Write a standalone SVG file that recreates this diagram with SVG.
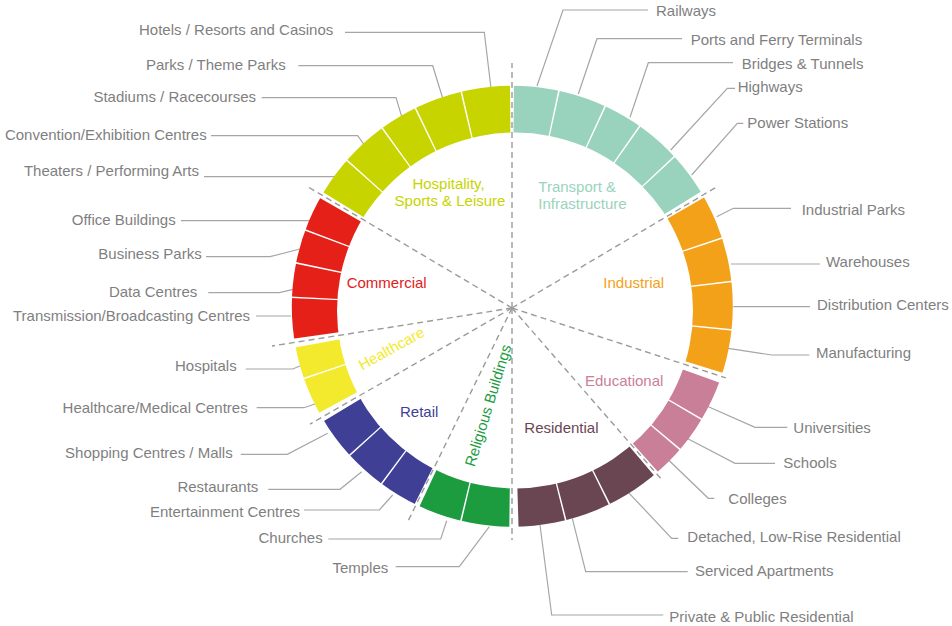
<svg xmlns="http://www.w3.org/2000/svg" width="952" height="626" viewBox="0 0 952 626">
<style>
text{font-family:"Liberation Sans",Arial,Helvetica,sans-serif;font-size:15px}
.lbl{fill:#7f7f7f}
.r{text-anchor:end}
.m{text-anchor:middle}
.seg{fill:none;stroke-width:90}
.lead{fill:none;stroke:#a6a6a6;stroke-width:1.2}
.dash{fill:none;stroke:#9b9b9b;stroke-width:1.4;stroke-dasharray:6 4}
.tr{stroke:#9AD3BD}.tt{fill:#9AD3BD}
.ho{stroke:#C8D400}.ht{fill:#C8D400}
.co{stroke:#E42019}.ct{fill:#E42019}
.hc{stroke:#F3E92D}.hct{fill:#F3E92D}
.re{stroke:#3E3F95}.ret{fill:#3E3F95}
.rb{stroke:#1C9C3F}.rbt{fill:#1C9C3F}
.rs{stroke:#6A4653}.rst{fill:#6A4653}
.ed{stroke:#CA7F98}.edt{fill:#CA7F98}
.in{stroke:#F4A11A}.int{fill:#F4A11A}
</style>
<defs>
<clipPath id="ring"><path clip-rule="evenodd" d="M291.8,306.2 A220.5,220.5 0 1,0 732.8,306.2 A220.5,220.5 0 1,0 291.8,306.2 Z M337,310.5 A178,178 0 1,0 693,310.5 A178,178 0 1,0 337,310.5 Z"/></clipPath>
</defs>
<rect width="952" height="626" fill="#ffffff"/>
<g id="dividers">
<line class="dash" x1="512" y1="308" x2="757" y2="308" transform="rotate(-90 512 308)"/>
<line class="dash" x1="512" y1="308" x2="744" y2="308" transform="rotate(90 512 308)"/>
<line class="dash" x1="512" y1="308" x2="748" y2="308" transform="rotate(-30.6 512 308)"/>
<line class="dash" x1="512" y1="308" x2="737" y2="308" transform="rotate(18.1 512 308)"/>
<line class="dash" x1="512" y1="308" x2="738" y2="308" transform="rotate(48.9 512 308)"/>
<line class="dash" x1="512" y1="308" x2="752" y2="308" transform="rotate(116 512 308)"/>
<line class="dash" x1="512" y1="308" x2="745" y2="308" transform="rotate(150.1 512 308)"/>
<line class="dash" x1="512" y1="308" x2="755" y2="308" transform="rotate(171 512 308)"/>
<line class="dash" x1="512" y1="308" x2="752" y2="308" transform="rotate(-149.3 512 308)"/>
</g>
<g id="connectors">
<polyline class="lead" points="648,10 563,10 537,86"/>
<polyline class="lead" points="682,38.7 597,38.7 578.3,94"/>
<polyline class="lead" points="733,62.7 648.3,62.7 630,117.3"/>
<polyline class="lead" points="735,88.3 727.3,88.3 670.7,150"/>
<polyline class="lead" points="743.3,123.3 737.3,123.3 691.7,175"/>
<polyline class="lead" points="791,208.3 733.3,208.3 716.7,216.7"/>
<polyline class="lead" points="820,264 731,264"/>
<polyline class="lead" points="810,306.7 733.3,306.7"/>
<polyline class="lead" points="809.3,355 771.7,355 728.3,348.3"/>
<polyline class="lead" points="787.3,427.3 755,427.3 706.7,406"/>
<polyline class="lead" points="775,463.3 735,463.3 685,437.3"/>
<polyline class="lead" points="714.3,498.3 708.3,498.3 666.7,458.3"/>
<polyline class="lead" points="678.3,538.3 671.7,538.3 628.3,492.3"/>
<polyline class="lead" points="687.7,571.7 585.7,571.7 572.3,518.3"/>
<polyline class="lead" points="663.3,615 551.7,615 540,525"/>
<polyline class="lead" points="345,32.3 484.3,32.3 491,88.3"/>
<polyline class="lead" points="298.3,65.7 432.7,65.7 442.7,98.3"/>
<polyline class="lead" points="261.7,97.7 396,97.7 401.7,116.7"/>
<polyline class="lead" points="211,135.7 357.7,135.7 364.3,145"/>
<polyline class="lead" points="204,176.7 338.3,176.7"/>
<polyline class="lead" points="181,220.7 311.7,220.7"/>
<polyline class="lead" points="206,256.7 270,256.7 300,249"/>
<polyline class="lead" points="208.3,292.7 279.3,292.7 293.3,289.3"/>
<polyline class="lead" points="256,316 291,316"/>
<polyline class="lead" points="245.7,369 292.7,369 300,366"/>
<polyline class="lead" points="256.7,407.7 304,407.7 315,404"/>
<polyline class="lead" points="240.7,454.3 287.3,454.3 327.7,433.3"/>
<polyline class="lead" points="268.3,489.3 340,489.3 361.7,471.7"/>
<polyline class="lead" points="304,510 379.3,510 392.7,495"/>
<polyline class="lead" points="328.3,539 440.7,539 446.7,520.7"/>
<polyline class="lead" points="395.7,566.7 459.3,566.7 489.3,526.7"/>
</g>

<g id="cat-transport">
<text class="tt" x="538.3" y="192">Transport &amp;</text>
<text class="tt" x="538.3" y="209.3">Infrastructure</text>
<g id="n-railways"><g clip-path="url(#ring)"><circle class="seg tr" cx="512" cy="308" r="200" stroke-dasharray="40.14 2000" transform="rotate(-89.5 512 308)"/></g><text class="lbl" x="656" y="16">Railways</text></g>
<g id="n-ports"><g clip-path="url(#ring)"><circle class="seg tr" cx="512" cy="308" r="200" stroke-dasharray="42.59 2000" transform="rotate(-77.6 512 308)"/></g><text class="lbl" x="690.7" y="45">Ports and Ferry Terminals</text></g>
<g id="n-bridges"><g clip-path="url(#ring)"><circle class="seg tr" cx="512" cy="308" r="200" stroke-dasharray="34.56 2000" transform="rotate(-65 512 308)"/></g><text class="lbl" x="741.7" y="69">Bridges &amp; Tunnels</text></g>
<g id="n-highways"><g clip-path="url(#ring)"><circle class="seg tr" cx="512" cy="308" r="200" stroke-dasharray="40.14 2000" transform="rotate(-54.7 512 308)"/></g><text class="lbl" x="737.7" y="92.3">Highways</text></g>
<g id="n-power"><g clip-path="url(#ring)"><circle class="seg tr" cx="512" cy="308" r="200" stroke-dasharray="39.10 2000" transform="rotate(-42.8 512 308)"/></g><text class="lbl" x="747.3" y="128.3">Power Stations</text></g>
</g>

<g id="cat-industrial">
<text class="int" x="603.3" y="288.3">Industrial</text>
<g id="n-indparks"><g clip-path="url(#ring)"><circle class="seg in" cx="512" cy="308" r="200" stroke-dasharray="39.44 2000" transform="rotate(-29.9 512 308)"/></g><text class="lbl" x="801.7" y="215">Industrial Parks</text></g>
<g id="n-warehouses"><g clip-path="url(#ring)"><circle class="seg in" cx="512" cy="308" r="200" stroke-dasharray="38.75 2000" transform="rotate(-18.2 512 308)"/></g><text class="lbl" x="826" y="267">Warehouses</text></g>
<g id="n-distribution"><g clip-path="url(#ring)"><circle class="seg in" cx="512" cy="308" r="200" stroke-dasharray="42.59 2000" transform="rotate(-6.7 512 308)"/></g><text class="lbl" x="817" y="310">Distribution Centers</text></g>
<g id="n-manufacturing"><g clip-path="url(#ring)"><circle class="seg in" cx="512" cy="308" r="200" stroke-dasharray="39.10 2000" transform="rotate(5.9 512 308)"/></g><text class="lbl" x="816" y="358.3">Manufacturing</text></g>
</g>

<g id="cat-educational">
<text class="edt" x="585" y="385.7">Educational</text>
<g id="n-universities"><g clip-path="url(#ring)"><circle class="seg ed" cx="512" cy="308" r="200" stroke-dasharray="36.30 2000" transform="rotate(19.8 512 308)"/></g><text class="lbl" x="793.3" y="433.3">Universities</text></g>
<g id="n-schools"><g clip-path="url(#ring)"><circle class="seg ed" cx="512" cy="308" r="200" stroke-dasharray="32.46 2000" transform="rotate(30.6 512 308)"/></g><text class="lbl" x="783.3" y="468.3">Schools</text></g>
<g id="n-colleges"><g clip-path="url(#ring)"><circle class="seg ed" cx="512" cy="308" r="200" stroke-dasharray="27.93 2000" transform="rotate(40.3 512 308)"/></g><text class="lbl" x="728.3" y="504">Colleges</text></g>
</g>

<g id="cat-residential">
<text class="rst" x="524.3" y="433.3">Residential</text>
<g id="n-detached"><g clip-path="url(#ring)"><circle class="seg rs" cx="512" cy="308" r="200" stroke-dasharray="47.82 2000" transform="rotate(49.7 512 308)"/></g><text class="lbl" x="687.3" y="541.7">Detached, Low-Rise Residential</text></g>
<g id="n-serviced"><g clip-path="url(#ring)"><circle class="seg rs" cx="512" cy="308" r="200" stroke-dasharray="41.19 2000" transform="rotate(63.8 512 308)"/></g><text class="lbl" x="695" y="576">Serviced Apartments</text></g>
<g id="n-private"><g clip-path="url(#ring)"><circle class="seg rs" cx="512" cy="308" r="200" stroke-dasharray="42.94 2000" transform="rotate(76 512 308)"/></g><text class="lbl" x="669.3" y="621.7">Private &amp; Public Residential</text></g>
</g>

<g id="cat-religious">
<text class="rbt m" x="493" y="407" transform="rotate(-73 493 407)">Religious Buildings</text>
<g id="n-temples"><g clip-path="url(#ring)"><circle class="seg rb" cx="512" cy="308" r="200" stroke-dasharray="43.98 2000" transform="rotate(90.7 512 308)"/></g><text class="lbl r" x="388.3" y="573.3">Temples</text></g>
<g id="n-churches"><g clip-path="url(#ring)"><circle class="seg rb" cx="512" cy="308" r="200" stroke-dasharray="39.44 2000" transform="rotate(103.7 512 308)"/></g><text class="lbl r" x="322.7" y="543.3">Churches</text></g>
</g>

<g id="cat-retail">
<text class="ret" x="400" y="416.7">Retail</text>
<g id="n-entertainment"><g clip-path="url(#ring)"><circle class="seg re" cx="512" cy="308" r="200" stroke-dasharray="34.91 2000" transform="rotate(116.4 512 308)"/></g><text class="lbl r" x="300" y="517.3">Entertainment Centres</text></g>
<g id="n-restaurants"><g clip-path="url(#ring)"><circle class="seg re" cx="512" cy="308" r="200" stroke-dasharray="37.70 2000" transform="rotate(126.8 512 308)"/></g><text class="lbl r" x="258.3" y="492.3">Restaurants</text></g>
<g id="n-shopping"><g clip-path="url(#ring)"><circle class="seg re" cx="512" cy="308" r="200" stroke-dasharray="38.40 2000" transform="rotate(138 512 308)"/></g><text class="lbl r" x="232.7" y="458.3">Shopping Centres / Malls</text></g>
</g>

<g id="cat-healthcare">
<text class="hct m" x="394" y="353" transform="rotate(-29 394 353)">Healthcare</text>
<g id="n-medical"><g clip-path="url(#ring)"><circle class="seg hc" cx="512" cy="308" r="200" stroke-dasharray="33.51 2000" transform="rotate(151.5 512 308)"/></g><text class="lbl r" x="247.7" y="412.7">Healthcare/Medical Centres</text></g>
<g id="n-hospitals"><g clip-path="url(#ring)"><circle class="seg hc" cx="512" cy="308" r="200" stroke-dasharray="28.62 2000" transform="rotate(161.5 512 308)"/></g><text class="lbl r" x="236.7" y="370.7">Hospitals</text></g>
</g>

<g id="cat-commercial">
<text class="ct" x="346.7" y="288.3">Commercial</text>
<g id="n-transmission"><g clip-path="url(#ring)"><circle class="seg co" cx="512" cy="308" r="200" stroke-dasharray="37.00 2000" transform="rotate(172 512 308)"/></g><text class="lbl r" x="250" y="320.7">Transmission/Broadcasting Centres</text></g>
<g id="n-data"><g clip-path="url(#ring)"><circle class="seg co" cx="512" cy="308" r="200" stroke-dasharray="30.02 2000" transform="rotate(183 512 308)"/></g><text class="lbl r" x="197.3" y="296.7">Data Centres</text></g>
<g id="n-business"><g clip-path="url(#ring)"><circle class="seg co" cx="512" cy="308" r="200" stroke-dasharray="29.67 2000" transform="rotate(192 512 308)"/></g><text class="lbl r" x="201.7" y="259">Business Parks</text></g>
<g id="n-office"><g clip-path="url(#ring)"><circle class="seg co" cx="512" cy="308" r="200" stroke-dasharray="31.07 2000" transform="rotate(200.9 512 308)"/></g><text class="lbl r" x="175.7" y="225">Office Buildings</text></g>
</g>

<g id="cat-hospitality">
<text class="ht m" x="448.5" y="189.3">Hospitality,</text>
<text class="ht m" x="450" y="205.7">Sports &amp; Leisure</text>
<g id="n-theaters"><g clip-path="url(#ring)"><circle class="seg ho" cx="512" cy="308" r="200" stroke-dasharray="35.26 2000" transform="rotate(211.5 512 308)"/></g><text class="lbl r" x="199" y="175.7">Theaters / Performing Arts</text></g>
<g id="n-convention"><g clip-path="url(#ring)"><circle class="seg ho" cx="512" cy="308" r="200" stroke-dasharray="41.89 2000" transform="rotate(222 512 308)"/></g><text class="lbl r" x="206.7" y="140">Convention/Exhibition Centres</text></g>
<g id="n-stadiums"><g clip-path="url(#ring)"><circle class="seg ho" cx="512" cy="308" r="200" stroke-dasharray="33.51 2000" transform="rotate(234.4 512 308)"/></g><text class="lbl r" x="256" y="102.3">Stadiums / Racecourses</text></g>
<g id="n-parks"><g clip-path="url(#ring)"><circle class="seg ho" cx="512" cy="308" r="200" stroke-dasharray="42.59 2000" transform="rotate(244.4 512 308)"/></g><text class="lbl r" x="285.7" y="70">Parks / Theme Parks</text></g>
<g id="n-hotels"><g clip-path="url(#ring)"><circle class="seg ho" cx="512" cy="308" r="200" stroke-dasharray="43.63 2000" transform="rotate(257 512 308)"/></g><text class="lbl r" x="333.3" y="35">Hotels / Resorts and Casinos</text></g>
</g>
</svg>
